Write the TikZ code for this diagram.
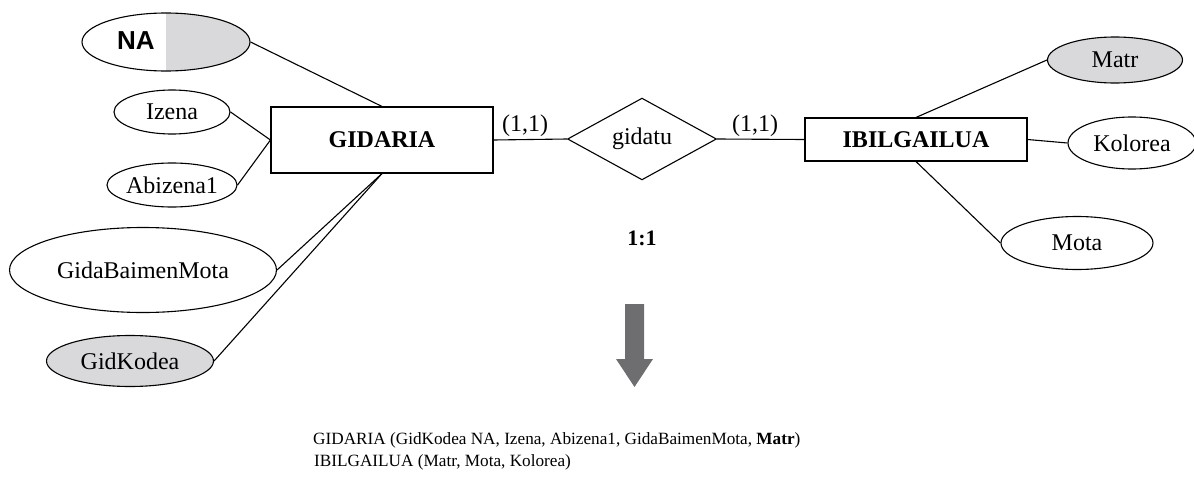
\documentclass[tikz,border=0pt]{standalone}
\usepackage{fontspec}
\setmainfont{Liberation Serif}
\newfontfamily\keyfont{Liberation Sans}
\definecolor{keygray}{RGB}{217,217,219}
\definecolor{arrowgray}{RGB}{110,110,112}
\usetikzlibrary{shapes.geometric}
\tikzset{
	attr/.style={ellipse, draw=black, line width=1.1pt, inner sep=0pt, font=\fontsize{24}{28}\selectfont},
	keyattr/.style={attr, fill=keygray},
	entity/.style={rectangle, draw=black, line width=1.1pt, minimum width=222pt, inner sep=0pt, font=\fontsize{24}{28}\selectfont\bfseries},
	relation/.style={diamond, draw=black, line width=1.1pt, minimum width=149pt, minimum height=64pt, inner sep=0pt, font=\fontsize{24}{28}\selectfont},
	card/.style={inner sep=0pt, font=\fontsize{24}{28}\selectfont},
	schema/.style={anchor=west, inner sep=0pt, font=\fontsize{17.2}{21}\selectfont},
	link/.style={line width=1.1pt},
}

\begin{document}
\begin{tikzpicture}[x=1pt, y=-1pt]
	\useasboundingbox (0,0) rectangle (1194,479);
	% entities and relationship
	\node[entity, minimum height=66pt] (gid) at (382,140) {GIDARIA};
	\node[entity, minimum height=43pt] (ibil) at (916,139.5) {IBILGAILUA};
	\node[relation] (gidatu) at (642,139) {gidatu};
	% attributes of GIDARIA
	\node[attr, minimum width=168pt, minimum height=58pt,
		path picture={\fill[keygray] (path picture bounding box.north) rectangle (path picture bounding box.south east);}] (na) at (166,42) {};
	\node[inner sep=0pt, font=\keyfont\bfseries\fontsize{26}{30}\selectfont] (natext) at (136,41) {NA};
	\node[attr, minimum width=116pt, minimum height=44pt] (izena) at (172,112) {Izena};
	\node[attr, minimum width=117pt, minimum height=44pt] (abiz) at (172,185) {Abizena1};
	\node[attr, minimum width=267pt, minimum height=85pt] (gbm) at (143,270) {GidaBaimenMota};
	\node[keyattr, minimum width=167pt, minimum height=51pt] (gkod) at (130,361) {GidKodea};
	% attributes of IBILGAILUA
	\node[keyattr, minimum width=135pt, minimum height=46pt] (matr) at (1115,60) {Matr};
	\node[attr, minimum width=128pt, minimum height=52pt] (kol) at (1132,143) {Kolorea};
	\node[attr, minimum width=152pt, minimum height=53pt] (mota) at (1077,243) {Mota};

	\draw[link] (na.east) -- (gid.north);
	\draw[link] (izena.east) -- (gid.west);
	\draw[link] (abiz.east) -- (gid.west);
	\draw[link] (gbm.east) -- (gid.south);
	\draw[link] (gkod.east) -- (gid.south);
	\draw[link] (gid.east) -- (gidatu.west);
	\draw[link] (gidatu.east) -- (ibil.west);
	\draw[link] (ibil.north) -- (matr.west);
	\draw[link] (ibil.east) -- (kol.west);
	\draw[link] (ibil.south) -- (mota.west);

	% cardinalities
	\node[card] (c1) at (525,126) {(1,1)};
	\node[card] (c2) at (755,126) {(1,1)};
	\node[card, font=\fontsize{22}{26}\selectfont\bfseries] (ratio) at (642,238) {1:1};

	% transformation arrow
	\fill[arrowgray] (625,304) -- (644,304) -- (644,359) -- (653,359) -- (634.5,387)
		-- (616,359) -- (625,359) -- cycle;

	% resulting relations
	\node[schema] (rel1) at (313,440) {GIDARIA (GidKodea NA, Izena, Abizena1, GidaBaimenMota, \textbf{Matr})};
	\node[schema] (rel2) at (314,462) {IBILGAILUA (Matr, Mota, Kolorea)};
\end{tikzpicture}
\end{document}
